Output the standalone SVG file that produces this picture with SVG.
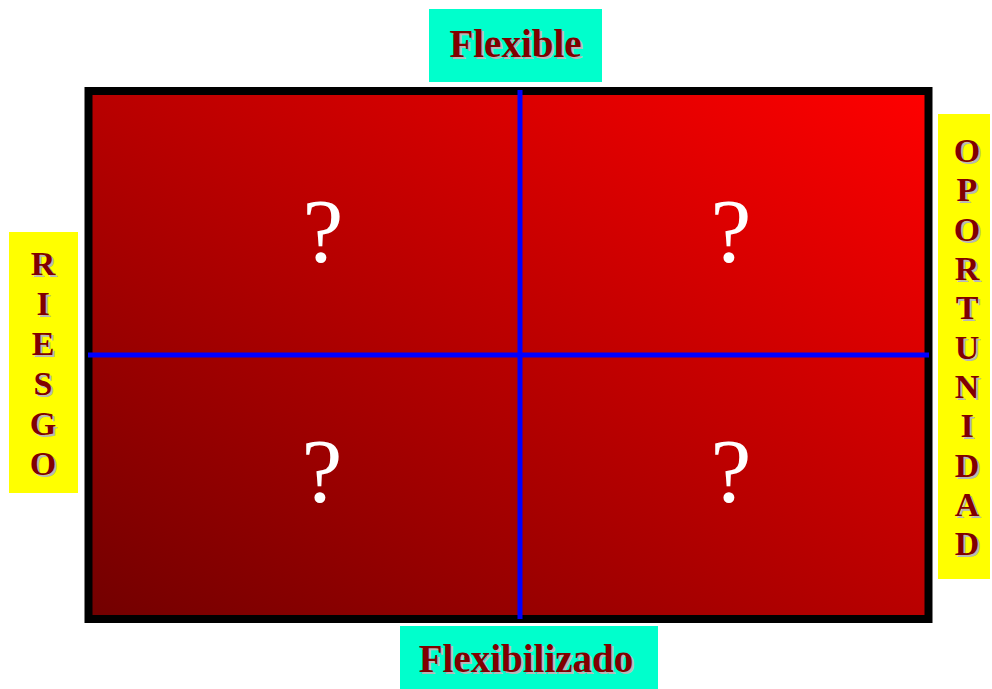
<svg xmlns="http://www.w3.org/2000/svg" width="992" height="689" viewBox="0 0 992 689">
  <defs>
    <linearGradient id="redGrad" x1="0" y1="1" x2="1" y2="0">
      <stop offset="0" stop-color="#720000"/>
      <stop offset="1" stop-color="#FF0000"/>
    </linearGradient>
  </defs>
  <style>
    .lbl { font-family: "Liberation Serif", "Times New Roman", serif; font-weight: bold; fill: #800000; text-anchor: middle; }
    .shadow { font-family: "Liberation Serif", "Times New Roman", serif; font-weight: bold; fill: #B8B8B8; text-anchor: middle; }
    .q { font-family: "Liberation Serif", "Times New Roman", serif; fill: #FFFFFF; font-size: 92px; text-anchor: middle; }
    .cyan { fill: #00FFCC; }
    .yellow { fill: #FFFF00; }
    .axis { stroke: #0000FF; stroke-width: 5; }
  </style>
  <rect width="992" height="689" fill="#FFFFFF"/>

  <g id="matrix">
    <rect x="88.5" y="91" width="840" height="528" fill="url(#redGrad)" stroke="#000000" stroke-width="8"/>
  </g>

  <g id="connectors">
    <line class="axis" x1="88" y1="355" x2="929" y2="355"/>
    <line class="axis" x1="520" y1="90" x2="520" y2="619"/>
  </g>

  <g id="q-top-left"><text class="q" x="323" y="262">?</text></g>
  <g id="q-top-right"><text class="q" x="731" y="262">?</text></g>
  <g id="q-bottom-left"><text class="q" x="322" y="502">?</text></g>
  <g id="q-bottom-right"><text class="q" x="731" y="502">?</text></g>

  <g id="flexible">
    <rect class="cyan" x="429" y="9" width="173" height="73"/>
    <text class="shadow" x="517.5" y="59" font-size="39">Flexible</text>
    <text class="lbl" x="515.5" y="57" font-size="39">Flexible</text>
  </g>

  <g id="flexibilizado">
    <rect class="cyan" x="400" y="626" width="258" height="63"/>
    <text class="shadow" x="528" y="674" font-size="39">Flexibilizado</text>
    <text class="lbl" x="526" y="672" font-size="39">Flexibilizado</text>
  </g>

  <g id="riesgo">
    <rect class="yellow" x="9" y="232" width="69" height="261"/>
    <g font-size="34">
      <text class="shadow" x="45" y="277">R</text>
      <text class="shadow" x="45" y="317">I</text>
      <text class="shadow" x="45" y="357">E</text>
      <text class="shadow" x="45" y="397">S</text>
      <text class="shadow" x="45" y="437">G</text>
      <text class="shadow" x="45" y="477">O</text>
      <text class="lbl" x="43" y="275">R</text>
      <text class="lbl" x="43" y="315">I</text>
      <text class="lbl" x="43" y="355">E</text>
      <text class="lbl" x="43" y="395">S</text>
      <text class="lbl" x="43" y="435">G</text>
      <text class="lbl" x="43" y="475">O</text>
    </g>
  </g>

  <g id="oportunidad">
    <rect class="yellow" x="938" y="114" width="52" height="465"/>
    <g font-size="34">
      <text class="shadow" x="969" y="164">O</text>
      <text class="shadow" x="969" y="203">P</text>
      <text class="shadow" x="969" y="243">O</text>
      <text class="shadow" x="969" y="282">R</text>
      <text class="shadow" x="969" y="321">T</text>
      <text class="shadow" x="969" y="361">U</text>
      <text class="shadow" x="969" y="400">N</text>
      <text class="shadow" x="969" y="439">I</text>
      <text class="shadow" x="969" y="479">D</text>
      <text class="shadow" x="969" y="518">A</text>
      <text class="shadow" x="969" y="557">D</text>
      <text class="lbl" x="967" y="162">O</text>
      <text class="lbl" x="967" y="201">P</text>
      <text class="lbl" x="967" y="241">O</text>
      <text class="lbl" x="967" y="280">R</text>
      <text class="lbl" x="967" y="319">T</text>
      <text class="lbl" x="967" y="359">U</text>
      <text class="lbl" x="967" y="398">N</text>
      <text class="lbl" x="967" y="437">I</text>
      <text class="lbl" x="967" y="477">D</text>
      <text class="lbl" x="967" y="516">A</text>
      <text class="lbl" x="967" y="555">D</text>
    </g>
  </g>
</svg>
